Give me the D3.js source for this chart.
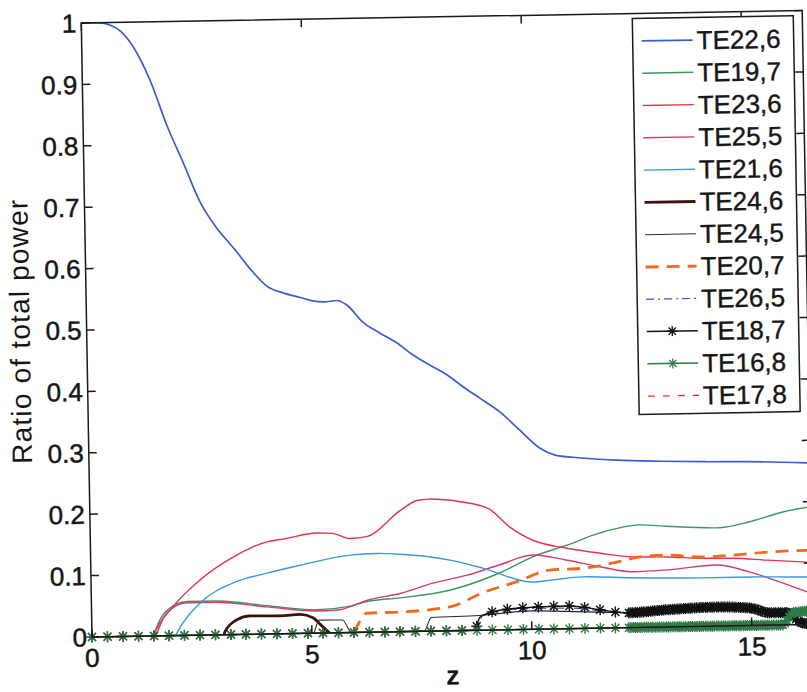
<!DOCTYPE html>
<html>
<head>
<meta charset="utf-8">
<script src="https://cdn.jsdelivr.net/npm/d3@7/dist/d3.min.js"></script>
<style>
  body { margin: 0; background: #fff; }
  svg { display: block; }
  text { font-family: "Liberation Sans", Arial, sans-serif; fill: #161616; }
</style>
</head>
<body>
<svg id="chart"></svg>
<script>
// ---- data: [z, ratio] ----
const te22_6 = [[0,1],[0.4,1],[0.65,0.996],[0.9,0.985],[1.17,0.96],[1.54,0.905],[1.91,0.83],[2.26,0.77],
  [2.63,0.705],[3.0,0.662],[3.4,0.627],[3.74,0.595],[4.12,0.566],[4.48,0.555],[4.87,0.547],[5.15,0.541],
  [5.4,0.539],[5.7,0.541],[5.93,0.533],[6.28,0.505],[6.66,0.487],[7.05,0.47],[7.41,0.45],[7.79,0.433],
  [8.17,0.417],[8.53,0.397],[8.91,0.378],[9.36,0.355],[9.8,0.325],[10.25,0.295],[10.6,0.283],[11,0.279],
  [12,0.273],[13,0.27],[14,0.268],[15,0.267],[16.4,0.263]];
const te19_7 = [[1.4,0],[1.45,0.01],[1.7,0.04],[2.17,0.055],[2.85,0.055],[3.99,0.046],[5.12,0.038],
  [5.88,0.043],[6.27,0.05],[7.02,0.055],[8.15,0.066],[9.3,0.093],[10.05,0.118],[10.83,0.136],[11.59,0.155],
  [12.5,0.167],[13.11,0.164],[14.25,0.16],[15.0,0.169],[15.75,0.184],[16.4,0.192]];
const te23_6 = [[1.4,0],[1.43,0.005],[1.85,0.047],[2.48,0.09],[3.24,0.126],[4.01,0.15],[4.38,0.154],
  [5.15,0.163],[5.5,0.162],[5.9,0.153],[6.3,0.156],[7.05,0.197],[7.44,0.213],[7.7,0.215],[8.58,0.208],
  [9.1,0.196],[9.54,0.167],[10.06,0.145],[10.83,0.131],[11.58,0.122],[12.32,0.115],[13.1,0.114],
  [13.85,0.111],[14.6,0.11],[15.37,0.106],[16.4,0.101]];
const te25_5 = [[1.45,0],[1.48,0.005],[1.71,0.037],[2.17,0.053],[2.85,0.053],[3.99,0.044],[5.12,0.036],
  [5.6,0.037],[5.88,0.042],[6.27,0.052],[7.02,0.062],[7.77,0.078],[8.55,0.09],[9.3,0.106],[10.05,0.121],
  [10.8,0.112],[11.57,0.1],[12.32,0.091],[13.1,0.093],[14.23,0.0995],[14.98,0.087],[15.73,0.068],[16.4,0.05]];
const te21_6 = [[1.9,0],[1.93,0.004],[2.47,0.052],[3.23,0.084],[4.0,0.099],[4.76,0.111],[5.9,0.126],
  [6.5,0.128],[7.03,0.126],[8.17,0.115],[8.91,0.101],[10.04,0.077],[10.5,0.08],[11.18,0.084],[12.32,0.081],
  [13.84,0.079],[15,0.079],[16.4,0.077]];
const te24_6 = [[3.0,0],[3.02,0.004],[3.3,0.024],[3.6,0.03],[4.28,0.029],[4.74,0.031],[5.03,0.025],
  [5.25,0.01],[5.4,0]];
const te24_5 = [[5.05,0],[5.18,0.021],[5.7,0.0205],[5.9,0],[7.55,0],[7.72,0.022],[8.8,0.024],[10,0.03],
  [12,0.025],[14,0.028],[15.4,0.026],[16,0.026],[16.4,0.025]];
const te20_7 = [[5.95,0],[6.03,0.01],[6.26,0.031],[7.01,0.032],[8.15,0.039],[8.9,0.061],[9.68,0.078],
  [10.44,0.096],[11.19,0.098],[11.96,0.107],[12.49,0.115],[13.1,0.117],[13.85,0.113],[14.6,0.115],
  [15.37,0.119],[16.4,0.121]];
const te26_5 = [[8.75,0],[8.9,0.024],[9.3,0.03],[10,0.034],[11,0.033],[12,0.025],[13,0.027],[14,0.029],
  [15.4,0.025],[16.4,0.02]];
const te18_7 = [[0,0],[8.7,0],[8.83,0.0215],[9.28,0.032],[10.03,0.036],[10.81,0.037],[11.56,0.03],
  [12.17,0.024],[13.08,0.028],[14.22,0.031],[14.97,0.0285],[15.42,0.02],[15.8,0.02],[16.1,0.004],[16.4,0]];
const te16_8 = [[0,0],[15.7,0],[15.95,0.02],[16.4,0.022]];
const te17_8 = [[0,0],[16.4,0]];

const seriesNames = ["TE22,6","TE19,7","TE23,6","TE25,5","TE21,6","TE24,6","TE24,5","TE20,7","TE26,5","TE18,7","TE16,8","TE17,8"];
const seriesData = [te22_6, te19_7, te23_6, te25_5, te21_6, te24_6, te24_5, te20_7, te26_5, te18_7, te16_8, te17_8];

const xTicks = [0, 5, 10, 15];
const yTicks = [0, 0.1, 0.2, 0.3, 0.4, 0.5, 0.6, 0.7, 0.8, 0.9, 1];
const xLabel = "z";
const yLabel = "Ratio of total power";

// ---- styles ----
const styles = {
  "TE22,6": {color: "#3a5cd4", width: 1.7},
  "TE19,7": {color: "#3c9660", width: 1.4},
  "TE23,6": {color: "#e8324c", width: 1.4},
  "TE25,5": {color: "#cf3d72", width: 1.4},
  "TE21,6": {color: "#3a98d8", width: 1.4},
  "TE24,6": {color: "#3b1410", width: 2.8},
  "TE24,5": {color: "#2a2a2a", width: 1.1},
  "TE20,7": {color: "#f06a1e", width: 2.8, dash: "13,8"},
  "TE26,5": {color: "#3452b8", width: 1.2, dash: "8,4,2,4"},
  "TE18,7": {color: "#111111", width: 1.4, marker: true},
  "TE16,8": {color: "#2f7b47", width: 1.5, marker: true},
  "TE17,8": {color: "#e0303f", width: 1.3, dash: "7,8"}
};

const W = 807, H = 692;
const svg = d3.select("#chart").attr("width", W).attr("height", H);
svg.append("rect").attr("width", W).attr("height", H).attr("fill", "#fff");

// the scanned figure is tilted by about one degree
const root = svg.append("g").attr("transform", "rotate(-1, 92, 637)");

const x = d3.scaleLinear().domain([0, 16.39]).range([92, 813]);
const y = d3.scaleLinear().domain([0, 1]).range([637, 23]);

const plot = root.append("g");
const line = d3.line().x(d => x(d[0])).y(d => y(d[1])).curve(d3.curveMonotoneX);

function starPath(s) {
  const d = s * 0.72;
  return `M${-s},0L${s},0M0,${-s}L0,${s}M${-d},${-d}L${d},${d}M${-d},${d}L${d},${-d}`;
}

seriesNames.forEach((name, i) => {
  const st = styles[name];
  const p = plot.append("path")
    .datum(seriesData[i])
    .attr("d", line)
    .attr("fill", "none")
    .attr("stroke", st.color)
    .attr("stroke-width", st.width)
    .attr("stroke-dasharray", st.dash || null);
  if (st.marker) {
    // markers sit on the solver's sample points: coarse steps first, very fine after z≈12.2
    const node = p.node();
    const total = node.getTotalLength();
    const pts = [];
    for (let l = 0; l <= total; l += 0.5) pts.push(node.getPointAtLength(l));
    const zs = d3.range(0, 12.2, 0.35).concat(d3.range(12.2, 16.4, 0.05));
    const bis = d3.bisector(q => q.x).left;
    zs.forEach(z => {
      const q = pts[Math.min(pts.length - 1, bis(pts, x(z)))];
      plot.append("path")
        .attr("transform", `translate(${q.x},${q.y})`)
        .attr("d", starPath(5.5))
        .attr("stroke", st.color)
        .attr("stroke-width", 1.4)
        .attr("fill", "none");
    });
  }
});

// ---- axes (box with inward ticks on all sides) ----
const ax = root.append("g").attr("stroke", "#1a1a1a").attr("stroke-width", 1.5);
ax.append("rect").attr("x", 92).attr("y", 23).attr("width", 721).attr("height", 614).attr("fill", "none");
const tl = 8;
xTicks.forEach(t => {
  ax.append("line").attr("x1", x(t)).attr("x2", x(t)).attr("y1", 637).attr("y2", 637 - tl);
  ax.append("line").attr("x1", x(t)).attr("x2", x(t)).attr("y1", 23).attr("y2", 23 + tl);
});
yTicks.forEach(t => {
  ax.append("line").attr("x1", 92).attr("x2", 92 + tl).attr("y1", y(t)).attr("y2", y(t));
  ax.append("line").attr("x1", 813).attr("x2", 813 - tl).attr("y1", y(t)).attr("y2", y(t));
});

const fmt = d3.format("~g");
root.append("g").selectAll("text").data(xTicks).join("text")
  .attr("x", d => x(d)).attr("y", 667)
  .attr("text-anchor", "middle").attr("font-size", 26)
  .attr("stroke", "#161616").attr("stroke-width", 0.5)
  .text(d => fmt(d));
root.append("g").selectAll("text").data(yTicks).join("text")
  .attr("x", 87).attr("y", d => y(d)).attr("dy", "0.36em")
  .attr("text-anchor", "end").attr("font-size", 26)
  .attr("stroke", "#161616").attr("stroke-width", 0.5)
  .text(d => fmt(d));

root.append("text").attr("x", 452).attr("y", 691)
  .attr("text-anchor", "middle").attr("font-size", 27).attr("font-weight", "bold")
  .text(xLabel);
root.append("text")
  .attr("transform", "translate(35,330) rotate(-90)")
  .attr("text-anchor", "middle").attr("font-size", 28).attr("letter-spacing", 1.2)
  .text(yLabel);

// ---- legend ----
const lg = root.append("g");
const lgLeft = 643, lgTop = 28, lgRight = 804, lgBottom = 424;
lg.append("rect").attr("x", lgLeft).attr("y", lgTop)
  .attr("width", lgRight - lgLeft).attr("height", lgBottom - lgTop)
  .attr("fill", "#fff").attr("stroke", "#1a1a1a").attr("stroke-width", 1.5);
seriesNames.forEach((name, i) => {
  const st = styles[name];
  const ry = lgTop + 22.6 + i * 32.3;
  lg.append("line").attr("x1", 652).attr("x2", 703).attr("y1", ry).attr("y2", ry)
    .attr("stroke", st.color).attr("stroke-width", st.width)
    .attr("stroke-dasharray", st.dash || null);
  if (st.marker) {
    lg.append("path").attr("transform", `translate(677.5,${ry})`).attr("d", starPath(5))
      .attr("stroke", st.color).attr("stroke-width", 1.3);
  }
  lg.append("text").attr("x", 707).attr("y", ry).attr("dy", "0.36em")
    .attr("font-size", 26).attr("stroke", "#161616").attr("stroke-width", 0.4)
    .text(name);
});
</script>
</body>
</html>
